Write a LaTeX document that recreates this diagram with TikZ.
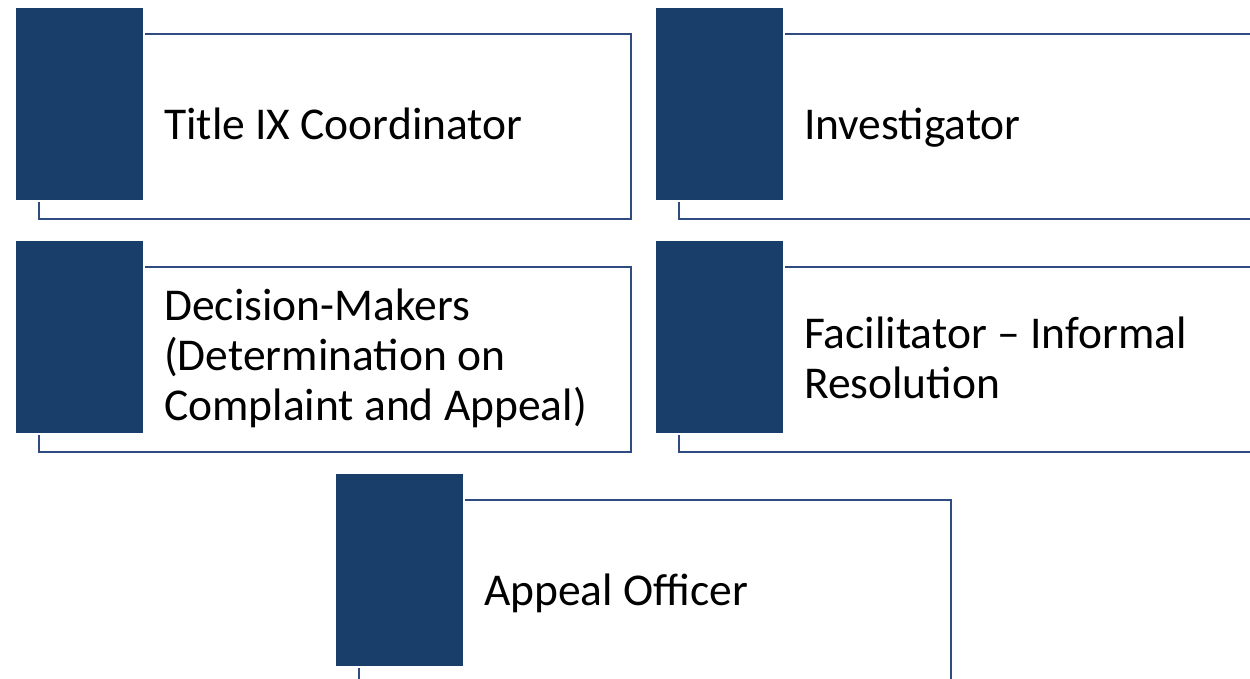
\documentclass[tikz,border=0pt]{standalone}
\usepackage{fontspec}
\setmainfont{Carlito}
\definecolor{darkblue}{HTML}{1A3E6A}
\definecolor{lineblue}{HTML}{2F4B80}
\begin{document}
\begin{tikzpicture}[x=1pt,y=-1pt,
  frame/.style={draw=lineblue,line width=1.5pt,anchor=north west,inner sep=0pt,minimum width=592pt,minimum height=185pt},
  tab/.style={fill=darkblue,draw=white,line width=2pt,anchor=north west,inner sep=0pt,minimum width=129pt,minimum height=194pt},
  lbl/.style={anchor=west,inner sep=0pt,align=left,font=\fontsize{45.5}{50}\selectfont,text=black},
  lbl1/.style={lbl,anchor=base west}]
\useasboundingbox (0,0) rectangle (1250,678);
\clip (0,0) rectangle (1250,678);
% row 1
\node[frame] (f1) at (38,33) {};
\node[tab] (d1) at (14,6) {};
\node[lbl1] (t1) at (164,139) {Title IX Coordinator};
\node[frame] (f2) at (678,33) {};
\node[tab] (d2) at (654,6) {};
\node[lbl1] (t2) at (804,139) {Investigator};
% row 2
\node[frame] (f3) at (38,266) {};
\node[tab] (d3) at (14,239) {};
\node[lbl] (t3) at (164,358) {Decision-Makers\\(Determination on\\Complaint and Appeal)};
\node[frame] (f4) at (678,266) {};
\node[tab] (d4) at (654,239) {};
\node[lbl] (t4) at (804,358) {Facilitator -- Informal\\Resolution};
% row 3
\node[frame] (f5) at (358,499) {};
\node[tab] (d5) at (334,472) {};
\node[lbl1] (t5) at (484,605) {Appeal Officer};
\end{tikzpicture}
\end{document}
